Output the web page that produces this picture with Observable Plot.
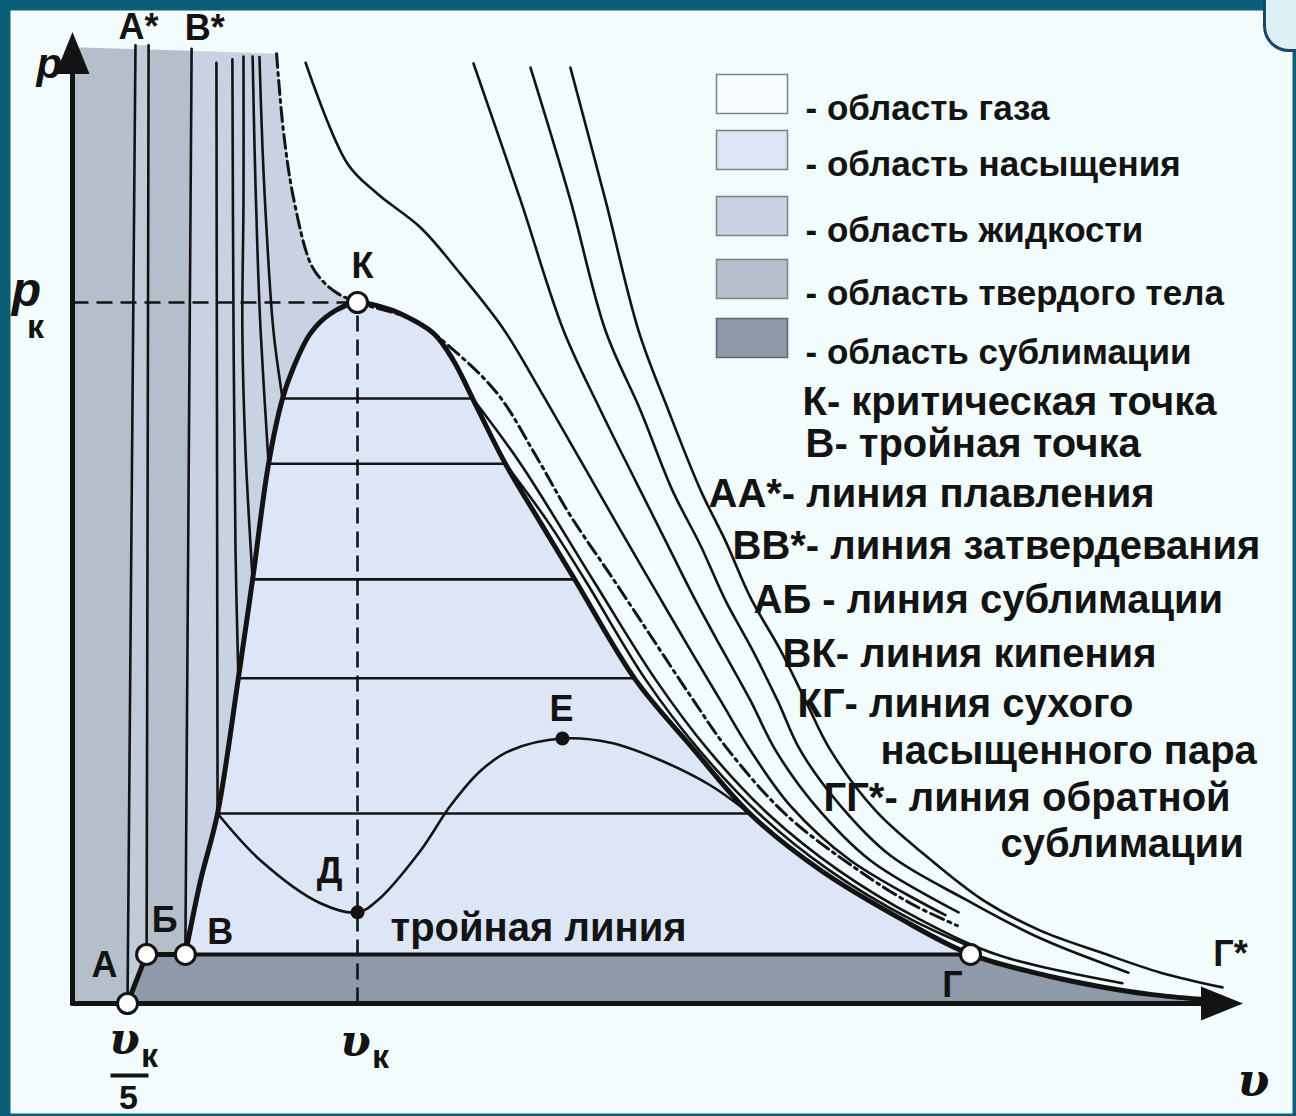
<!DOCTYPE html>
<html>
<head>
<meta charset="utf-8">
<script src="https://cdn.jsdelivr.net/npm/d3@7"></script>
<script src="https://cdn.jsdelivr.net/npm/@observablehq/plot@0.6"></script>
<style>
  html, body { margin: 0; padding: 0; background: #0b5e78; }
  #wrap { position: relative; width: 1296px; height: 1116px; overflow: hidden; }
  #tab { position: absolute; left: 1263px; top: -40px; width: 80px; height: 86px;
         border: 3px solid #17486a; border-radius: 26px; background: #dcf1f6; }
</style>
</head>
<body>
<div id="wrap"><div id="chart"></div><div id="tab"></div></div>
<script>
// p–v diagram of a substance. v is measured in units of v_к, p in units of p_к.

// Saturation dome: boiling line В→К and dry saturated vapour line К→Г
const domeLeft = [[0.396,0.07],[0.449,0.175],[0.509,0.271],[0.582,0.464],[0.632,0.605],[0.688,0.770],
  [0.737,0.863],[0.775,0.907],[0.835,0.956],[0.905,0.984],[1,1]];
const domeRight = [[1,1],[1.081,0.994],[1.151,0.984],[1.267,0.956],[1.337,0.917],[1.404,0.863],
  [1.519,0.770],[1.642,0.686],[1.765,0.603],[1.975,0.462],[2.168,0.368],[2.379,0.270],
  [2.625,0.190],[2.905,0.121],[3.151,0.07]];
// ГГ* tail of the dry vapour line below the triple line
const dryTail = [[3.151,0.07],[3.432,0.0385],[3.607,0.024],[3.782,0.013],[3.958,0.006]];

// Critical isotherm (dash-dot), through К
const critical = [[0.716,1.355],[0.740,1.245],[0.775,1.150],[0.835,1.056],[0.877,1.031],[0.930,1.013],[1,1],
  [1.196,0.975],[1.326,0.936],[1.491,0.870],[1.625,0.782],[1.747,0.696],[1.888,0.611],[2.028,0.525],
  [2.168,0.439],[2.302,0.361],[2.502,0.270],[2.747,0.193],[2.940,0.143],[3.105,0.111]];

// Special points
const pointNames = ["А", "Б", "В", "К", "Г"];
const pointV = [0.193, 0.260, 0.396, 1, 3.151];
const pointP = [0, 0.07, 0.07, 1, 0.07];
const metastable = [{name: "Д", v: 1, p: 0.130}, {name: "Е", v: 1.719, p: 0.378}];

// Melting / solidification lines
const lineA = [[0.193,0],[0.221,1.367]];
const lineB1 = [[0.260,0.07],[0.267,1.367]];
const lineB = [[0.396,0.07],[0.418,1.362]];
const fillTop = [[0,1.364],[0.716,1.355]];

// Liquid-side isotherms, ending on the boiling line
const liquidIsotherms = [
  [[0.505,1.342],[0.509,0.271]],
  [[0.561,1.347],[0.565,0.960],[0.572,0.646],[0.582,0.464]],
  [[0.600,1.351],[0.600,1.146],[0.596,0.960],[0.607,0.789],[0.632,0.605]],
  [[0.632,1.351],[0.639,1.217],[0.649,1.074],[0.660,0.960],[0.688,0.770]],
  [[0.656,1.350],[0.667,1.217],[0.681,1.103],[0.705,0.960],[0.737,0.863]]
];
// Isobars inside the dome
const isobarP = [0.863, 0.770, 0.605, 0.464, 0.271];
const isobarV1 = [0.737, 0.688, 0.632, 0.582, 0.509];
const isobarV2 = [1.404, 1.519, 1.765, 1.975, 2.379];

// Van der Waals loop through Д and Е
const loopDE = [[0.509,0.271],[0.660,0.204],[0.870,0.143],[1,0.130],[1.070,0.147],[1.221,0.218],
  [1.326,0.282],[1.432,0.332],[1.537,0.361],[1.719,0.378],[1.888,0.372],[2.063,0.347],[2.239,0.311],[2.379,0.270]];

// Vapour isotherms leaving the dome
const vapourIsotherms = [
  [[1.404,0.863],[1.572,0.770],[1.828,0.603],[2.046,0.462],[2.232,0.361],[2.442,0.270],[2.688,0.190],[2.968,0.121],[3.256,0.068],[3.684,0.029]],
  [[1.519,0.770],[1.670,0.686],[1.800,0.603],[2.011,0.462],[2.200,0.361],[2.411,0.270],[2.656,0.190],[2.937,0.121],[3.168,0.078]]
];
// Supercritical isotherms
const superIsotherms = [
  [[0.818,1.342],[0.965,1.198],[1.070,1.155],[1.221,1.107],[1.351,1.046],[1.509,0.964],[1.642,0.874],[1.782,0.775],
   [1.923,0.675],[2.046,0.589],[2.168,0.504],[2.274,0.432],[2.379,0.361],[2.519,0.282],[2.730,0.204],[3.063,0.126]],
  [[1.407,1.341],[1.572,1.146],[1.723,0.960],[1.853,0.846],[1.975,0.746],[2.081,0.660],[2.186,0.575],[2.281,0.504],
   [2.379,0.432],[2.467,0.361],[2.607,0.282],[2.800,0.204],[3.109,0.130]],
  [[1.607,1.335],[1.747,1.146],[1.870,0.960],[1.993,0.846],[2.105,0.732],[2.204,0.653],[2.291,0.575],[2.386,0.504],
   [2.474,0.432],[2.554,0.361],[2.695,0.282],[2.870,0.211],[3.140,0.147],[3.396,0.093],[3.705,0.044]],
  [[1.747,1.335],[1.870,1.146],[1.986,0.960],[2.091,0.846],[2.204,0.732],[2.291,0.660],[2.379,0.579],[2.484,0.504],
   [2.572,0.432],[2.660,0.361],[2.818,0.275],[2.993,0.211],[3.196,0.147],[3.396,0.104],[3.607,0.073],[3.818,0.044],[4.035,0.023]]
];

// Legend
const legendLabels = ["- область газа", "- область насыщения", "- область жидкости", "- область твердого тела", "- область сублимации"];
const legendColors = ["#f7fdfe", "#dde6f6", "#c8d2e2", "#b5bfcc", "#8e99a9"];
const notes = ["К- критическая точка", "В- тройная точка", "АА*- линия плавления", "ВВ*- линия затвердевания",
  "АБ - линия сублимации", "ВК- линия кипения", "КГ- линия сухого", "насыщенного пара",
  "ГГ*- линия обратной", "сублимации"];

// ---- drawing ----
const ink = "#131313";
const font = "'Liberation Sans', Arial, sans-serif";
const serif = "'DejaVu Serif', serif";
const xy = {x: d => d[0], y: d => d[1]};
const thin = {...xy, stroke: ink, strokeWidth: 2.6, curve: "catmull-rom"};
const poly = (data, fill) => Plot.line(data, {...xy, fill, stroke: "none"});

const solidZone = [[0,0], fillTop[0], [0.418,1.359], [0.396,0]];
const meltZone = [lineA[0], lineA[1], lineB1[1], lineB1[0]];
const liquidZone = [[0.418,1.359], ...critical.slice(0, 7), ...domeLeft.slice().reverse()];
const saturationZone = [...domeLeft, ...domeRight.slice(1)];
const sublimationZone = [[pointV[0], pointP[0]], [pointV[1], pointP[1]], [pointV[2], pointP[2]],
  ...dryTail, [4.02, 0]];
const boilDry = [...domeLeft, ...domeRight.slice(1), ...dryTail.slice(1)];

// Filled arrowhead with its tip at the anchor point
const arrowHead = {draw(ctx) { ctx.moveTo(0, 0); ctx.lineTo(-17, 42); ctx.lineTo(17, 42); ctx.closePath(); }};

const txt = (o) => ({fill: ink, fontFamily: font, fontWeight: "bold", fontSize: 36, ...o});
const at = (v, p, o) => txt({x: v, y: p, ...o});

const marks = [
  Plot.frame({fill: "#f2fcfd", stroke: null, insetLeft: 10, insetTop: 10, insetRight: 4, insetBottom: 3}),
  poly(solidZone, "#b5bfcc"),
  poly(meltZone, "#c2ccd9"),
  poly(liquidZone, "#c8d2e2"),
  poly(saturationZone, "#dde6f6"),
  poly(sublimationZone, "#8e99a9"),

  // melting / solidification lines
  Plot.line(lineA, {...xy, stroke: ink, strokeWidth: 2.6}),
  Plot.line(lineB1, {...xy, stroke: ink, strokeWidth: 2.6}),
  Plot.line(lineB, {...xy, stroke: ink, strokeWidth: 2.6}),

  // isotherms
  ...liquidIsotherms.map(d => Plot.line(d, thin)),
  Plot.link(isobarP, {x1: (d, i) => isobarV1[i], x2: (d, i) => isobarV2[i], y1: d => d, y2: d => d, stroke: ink, strokeWidth: 2.6}),
  Plot.line(loopDE, thin),
  ...vapourIsotherms.map(d => Plot.line(d, thin)),
  ...superIsotherms.map(d => Plot.line(d, thin)),
  Plot.line(critical, {...xy, stroke: ink, strokeWidth: 3, strokeDasharray: "14,5,3,5", curve: "catmull-rom"}),

  // p_к and v_к guides
  Plot.link([1], {x1: 0, x2: 1, y1: d => d, y2: d => d, stroke: ink, strokeWidth: 2.6, strokeDasharray: "16,8"}),
  Plot.link([1], {x1: d => d, x2: d => d, y1: 0, y2: 1, stroke: ink, strokeWidth: 2.6, strokeDasharray: "16,8"}),

  // boiling + dry saturated vapour line, triple line, sublimation line
  Plot.line(boilDry, {...xy, stroke: ink, strokeWidth: 5, curve: "catmull-rom"}),
  Plot.line([[pointV[2], pointP[2]], [pointV[4], pointP[4]]], {...xy, stroke: ink, strokeWidth: 4}),
  Plot.line([[pointV[0], pointP[0]], [pointV[1], pointP[1]], [pointV[2], pointP[2]]], {...xy, stroke: ink, strokeWidth: 5}),

  // axes
  Plot.line([[0,0],[0,1.33]], {...xy, stroke: ink, strokeWidth: 5}),
  Plot.line([[0,0],[4.0,0]], {...xy, stroke: ink, strokeWidth: 5}),
  Plot.dot([[0,1.386]], {...xy, symbol: arrowHead, fill: ink, stroke: "none"}),
  Plot.dot([[4.107,0]], {...xy, symbol: arrowHead, rotate: 90, fill: ink, stroke: "none"}),

  // points
  Plot.dot(pointNames, {x: (d, i) => pointV[i], y: (d, i) => pointP[i], r: 10, fill: "white", stroke: ink, strokeWidth: 3}),
  Plot.dot(metastable, {x: "v", y: "p", r: 7, fill: ink}),

  // point labels
  Plot.text(["А"], at(pointV[0], pointP[0], {dx: -23, dy: -38})),
  Plot.text(["Б"], at(pointV[1], pointP[1], {dx: 18, dy: -34})),
  Plot.text(["В"], at(pointV[2], pointP[2], {dx: 35, dy: -22})),
  Plot.text(["К"], at(pointV[3], pointP[3], {dx: 5, dy: -36})),
  Plot.text(["Г"], at(pointV[4], pointP[4], {dx: -18, dy: 31})),
  Plot.text(["Д"], at(metastable[0].v, metastable[0].p, {dx: -28, dy: -41})),
  Plot.text(["Е"], at(metastable[1].v, metastable[1].p, {dx: -1, dy: -29})),
  Plot.text(["А*"], at(lineA[1][0], lineA[1][1], {dx: 3, dy: -18})),
  Plot.text(["В*"], at(lineB[1][0], lineB[1][1], {dx: 13, dy: -20})),
  Plot.text(["Г*"], at(superIsotherms[3].at(-1)[0], superIsotherms[3].at(-1)[1], {dx: 8, dy: -33})),
  Plot.text(["тройная линия"], at(1.116, pointP[2], {dy: -26, textAnchor: "start", fontSize: 40})),

  // axis labels
  Plot.text(["p"], txt({frameAnchor: "top-left", dx: 36, dy: 48, fontStyle: "italic", fontSize: 42})),
  Plot.text(["p"], at(0, 1, {dx: -46, dy: -12, fontStyle: "italic", fontSize: 48})),
  Plot.text(["к"], at(0, 1, {dx: -37, dy: 25, fontSize: 34})),
  Plot.text(["υ"], at(1, 0, {dx: -2, dy: 38, fontFamily: serif, fontStyle: "italic", fontSize: 44})),
  Plot.text(["к"], at(1, 0, {dx: 23, dy: 54, fontSize: 34})),
  Plot.text(["υ"], at(pointV[0], 0, {dx: -3, dy: 36, fontFamily: serif, fontStyle: "italic", fontSize: 44})),
  Plot.text(["к"], at(pointV[0], 0, {dx: 22, dy: 53, fontSize: 34})),
  Plot.frame({fill: ink, stroke: null, insetLeft: 110, insetRight: 1296 - 148, insetTop: 1073, insetBottom: 1116 - 1077}),
  Plot.text(["5"], at(pointV[0], 0, {dx: 1, dy: 95, fontSize: 34})),
  Plot.text(["υ"], txt({frameAnchor: "top-left", dx: 1237, dy: 1063, fontFamily: serif, fontStyle: "italic", fontSize: 46})),

  // legend
  ...legendLabels.flatMap((label, i) => {
    const top = [74, 130, 196, 259, 318][i];
    return [
      Plot.frame({fill: legendColors[i], stroke: i === 4 ? "#5c6675" : "#7b8088", strokeWidth: 1.5,
        insetLeft: 716, insetRight: 1296 - 787, insetTop: top, insetBottom: 1116 - top - 39}),
      Plot.text([label], txt({frameAnchor: "top-left", dx: 805, dy: top + 21, textAnchor: "start", fontSize: 35}))
    ];
  }),
  ...notes.map((note, i) => Plot.text([note], txt({frameAnchor: "top-left",
    dx: [802, 805, 708, 732, 753, 782, 797, 880, 823, 1000][i],
    dy: [386, 428, 478, 530, 584, 638, 688, 735, 782, 828][i],
    textAnchor: "start", fontSize: 40})))
];

const chart = Plot.plot({
  width: 1296, height: 1116, margin: 0,
  x: {domain: [-72 / 285, 1224 / 285], axis: null},
  y: {domain: [-113 / 701, 1003 / 701], axis: null},
  style: {background: "#0b5e78", fontFamily: font},
  marks
});
document.getElementById("chart").appendChild(chart);
</script>
</body>
</html>
